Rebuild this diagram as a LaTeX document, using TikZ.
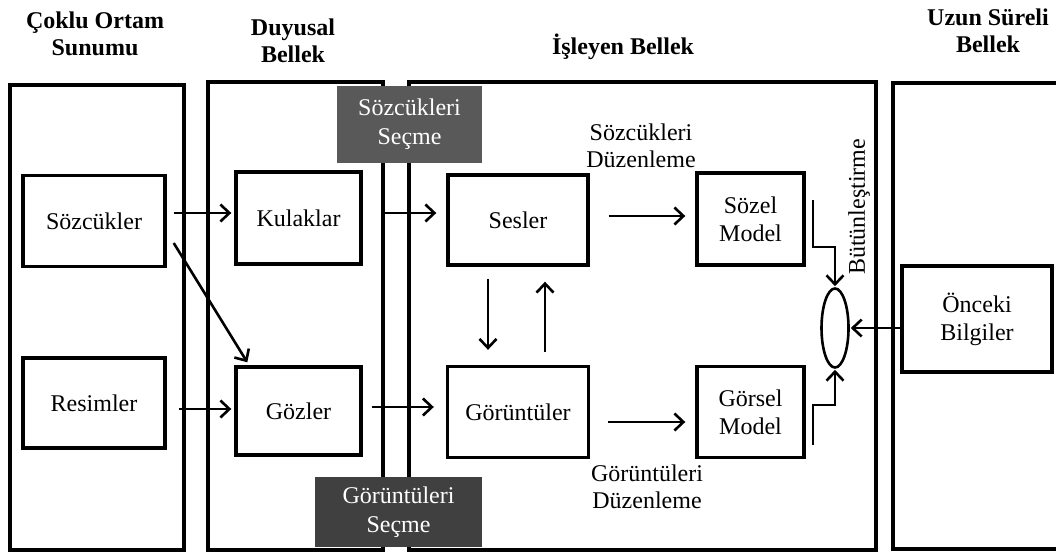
\documentclass[tikz,border=0pt]{standalone}
\usepackage{fontspec}
\setmainfont{Liberation Serif}
\usepackage{tikz}
\usetikzlibrary{shapes.geometric}
\usetikzlibrary{arrows.meta}
\definecolor{gri1}{HTML}{595959}
\definecolor{gri2}{HTML}{404040}

\begin{document}
\begin{tikzpicture}[x=1pt, y=-1pt,
        baslik/.style={align=center, font=\bfseries\fontsize{24}{27}\selectfont},
        etiket/.style={align=center, font=\fontsize{24}{27}\selectfont},
        kutu/.style={rectangle, draw, line width=3.4pt, minimum width=142, minimum height=91, inner sep=0pt, align=center, font=\fontsize{24}{28}\selectfont},
        secme/.style={rectangle, inner sep=0pt, align=center, text=white, font=\fontsize{24}{29}\selectfont},
        panel/.style={line width=3.4pt},
        ok/.style={->, line width=2.6pt, >={Straight Barb[length=9pt, width=17pt]}}]
        \useasboundingbox (0,0) rectangle (1056,554);

        % Titles
        \draw (95,34)  node(coklu)   [baslik] {Çoklu Ortam\\Sunumu};
        \draw (293,41) node(duyusal) [baslik] {Duyusal\\Bellek};
        \draw (623,47) node(isleyen) [baslik] {İşleyen Bellek};
        \draw (988,31) node(uzun)    [baslik] {Uzun Süreli\\Bellek};

        % Panels
        \draw[panel] (10,85) rectangle (184,550);
        \draw[panel] (208,82) rectangle (383,550);
        \draw[panel] (409,82) rectangle (876,550);
        \draw[panel] (1060,83) -- (893,83) -- (893,549) -- (1060,549);

        % Selection boxes
        \draw (409.5,124.5) node(sozsecme) [secme, fill=gri1, minimum width=145, minimum height=77] {Sözcükleri\\Seçme};
        \draw (398.5,512)   node(gorsecme) [secme, fill=gri2, minimum width=167, minimum height=70] {Görüntüleri\\Seçme};

        % Nodes
        \draw (94,221)    node(sozcukler)  [kutu] {Sözcükler};
        \draw (94,403)    node(resimler)   [kutu, minimum height=90] {Resimler};
        \draw (298.5,218) node(kulaklar)   [kutu, minimum width=125, minimum height=92] {Kulaklar};
        \draw (298.5,411) node(gozler)     [kutu, minimum width=125, minimum height=88] {Gözler};
        \draw (518,220)   node(sesler)     [kutu, minimum width=140, minimum height=90] {Sesler};
        \draw (518,412)   node(goruntuler) [kutu, minimum width=141] {Görüntüler};
        \draw (750.5,219) node(sozel)      [kutu, minimum width=107, minimum height=92] {Sözel\\Model};
        \draw (750.5,412) node(gorsel)     [kutu, minimum width=107] {Görsel\\Model};
        \draw (977,319)   node(onceki)     [kutu, minimum width=150, minimum height=106] {Önceki\\Bilgiler};
        \draw (835,328)   node(birles)     [ellipse, draw, line width=2.6pt, minimum width=27, minimum height=79, inner sep=0pt] {};

        \coordinate (sozelcikis) at (813,200);
        \coordinate (gorselcikis) at (813,445);

        % Labels
        \draw (641,146) node(sozduzen) [etiket] {Sözcükleri\\Düzenleme};
        \draw (647,487) node(gorduzen) [etiket] {Görüntüleri\\Düzenleme};
        \draw (859,207) node(butun)    [etiket, rotate=90] {Bütünleştirme};

        % Edges
        \draw[ok, shorten <=7, shorten >=3]   ([yshift=8]sozcukler.east) -- ([yshift=5]kulaklar.west);
        \draw[ok]                             ([xshift=7, yshift=-22]sozcukler.east) -- ([xshift=13, yshift=3]gozler.north west);
        \draw[ok, shorten <=12, shorten >=3]  ([yshift=-6]resimler.east) -- ([yshift=2]gozler.west);
        \draw[ok, shorten <=22, shorten >=10] ([yshift=5]kulaklar.east) -- ([yshift=7]sesler.west);
        \draw[ok, shorten <=9, shorten >=12]  ([yshift=4]gozler.east) -- ([yshift=5]goruntuler.west);
        \draw[ok, shorten <=19, shorten >=10] ([yshift=4]sesler.east) -- ([yshift=3]sozel.west);
        \draw[ok, shorten <=18, shorten >=10] ([yshift=-10]goruntuler.east) -- ([yshift=-10]gorsel.west);
        \draw[ok, shorten <=12, shorten >=15] ([xshift=-30]sesler.south) -- ([xshift=-30]goruntuler.north);
        \draw[ok, shorten <=13, shorten >=15] ([xshift=27]goruntuler.north) -- ([xshift=27]sesler.south);
        \draw[ok, shorten >=1]                ([yshift=-9]onceki.west) -- (birles.east);
        \draw[ok, shorten >=1] (sozelcikis) -- ++(0,47) -| (birles.north);
        \draw[ok, shorten >=1] (gorselcikis) -- ++(0,-40) -| (birles.south);

\end{tikzpicture}
\end{document}
